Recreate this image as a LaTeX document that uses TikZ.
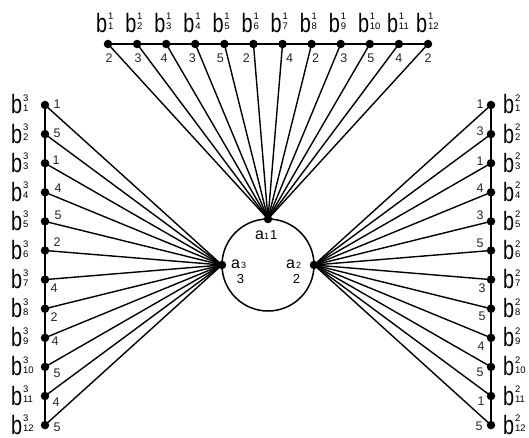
\documentclass[tikz,border=0pt]{standalone}
\usepackage{fontspec}
\setmainfont{Liberation Sans}
\usepackage{graphicx}
\newcommand\blab[2]{\scalebox{0.75}[1]{\fontsize{26.5}{26.5}\selectfont b}\hspace{0.8pt}\rlap{\raisebox{12.5pt}{\fontsize{9.5}{9.5}\selectfont #1}}\raisebox{2.5pt}{\fontsize{9.5}{9.5}\selectfont #2}}
\begin{document}
\begin{tikzpicture}[x=1pt,y=-1pt,
  dot/.style={circle,fill=black,inner sep=0pt,minimum size=8.5pt},
  num/.style={font=\fontsize{12.5}{12.5}\selectfont,inner sep=0pt,text=black!85},
  blabel/.style={anchor=base west,inner sep=0pt},
  spoke/.style={line width=1.4pt},
  rail/.style={line width=1.8pt}]
\useasboundingbox (0,0) rectangle (529,438);
% circle and a-nodes
\node[circle,draw,line width=1.5pt,minimum size=92pt,inner sep=0pt] (c) at (268,265) {};
\node[dot] (a1) at (268,219) {};
\node[dot] (a3) at (222,265) {};
\node[dot] (a2) at (314,265) {};
\node[anchor=base west,inner sep=0pt] (la1) at (255,239) {{\fontsize{16}{16}\selectfont a}{\fontsize{9}{9}\selectfont 1}\hspace{1pt}{\fontsize{13}{13}\selectfont 1}};
\node[anchor=base west,inner sep=0pt] (la3) at (231,268) {{\fontsize{16}{16}\selectfont a}\hspace{1pt}{\fontsize{9}{9}\selectfont 3}};
\node[anchor=base,inner sep=0pt,font=\fontsize{13}{13}\selectfont] (n3) at (240.5,283.5) {3};
\node[anchor=base west,inner sep=0pt] (la2) at (286,268) {{\fontsize{16}{16}\selectfont a}\hspace{1pt}{\fontsize{9}{9}\selectfont 2}};
\node[anchor=base,inner sep=0pt,font=\fontsize{13}{13}\selectfont] (n2) at (296.5,283.5) {2};
% top row
\foreach \i/\d/\dx in {1/2/1,2/3/1,3/4/-2,4/3/-3,5/5/-4,6/2/-7,7/4/7,8/2/4,9/3/3,10/5/1,11/4/0,12/2/0}{
  \node[dot] (t\i) at ({108+(\i-1)*29.09},44) {};
  \draw[spoke] (t\i.center) -- (a1.center);
  \node[num] (tn\i) at ({108+(\i-1)*29.09+\dx},58) {\d};
  \node[blabel] (tl\i) at ({96+(\i-1)*29.09},32.5) {\blab{1}{\i}};
}
\draw[rail] (t1.center) -- (t12.center);
% left column
\foreach \i/\d/\dx/\dy in {1/1/57/-1,2/5/57/-1,3/1/56/-3,4/4/58/-4,5/5/58/-6,6/2/57/-8,7/4/54/9,8/2/54/8.5,9/4/55/3.5,10/5/57/6,11/4/56/6,12/5/57/2}{
  \node[dot] (l\i) at (45,{105+(\i-1)*29.1}) {};
  \draw[spoke] (l\i.center) -- (a3.center);
  \node[num] (ln\i) at (\dx,{105+(\i-1)*29.1+\dy}) {\d};
  \node[blabel] (ll\i) at (11,{105+(\i-1)*29.1+9}) {\blab{3}{\i}};
}
\draw[rail] (l1.center) -- (l12.center);
% right column
\foreach \i/\d/\dx/\dy in {1/1/480/-1,2/3/480/-3,3/1/480/-1.5,4/4/480/-4,5/3/480/-6,6/5/480/-7.5,7/3/482/9,8/5/482/8,9/4/481/8,10/5/480/5.5,11/1/481/5,12/5/479/1}{
  \node[dot] (r\i) at (491,{105+(\i-1)*29.1}) {};
  \draw[spoke] (r\i.center) -- (a2.center);
  \node[num] (rn\i) at (\dx,{105+(\i-1)*29.1+\dy}) {\d};
  \node[blabel] (rl\i) at (503,{105+(\i-1)*29.1+9}) {\blab{2}{\i}};
}
\draw[rail] (r1.center) -- (r12.center);
\end{tikzpicture}
\end{document}
